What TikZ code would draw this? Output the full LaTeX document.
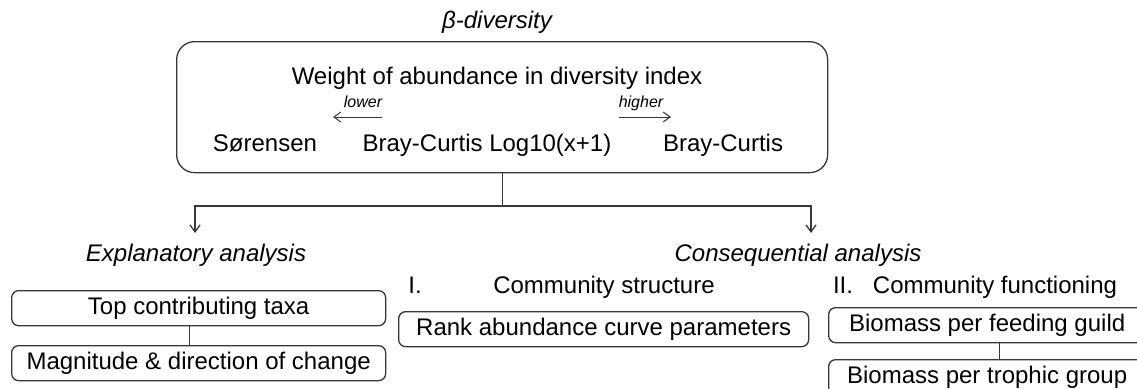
\documentclass[tikz,border=0pt]{standalone}
\usepackage{fontspec}
\setmainfont{Liberation Sans}
\usetikzlibrary{positioning,arrows.meta}
\definecolor{cline}{RGB}{55,55,55}

\begin{document}
\begin{tikzpicture}[x=1pt,y=-1pt,
    every node/.style={inner sep=0pt,text height=17pt,text depth=5pt,font=\fontsize{24}{28}\selectfont},
    roundbox/.style={draw=cline,line width=1.3pt,rounded corners=7pt,anchor=north west,minimum height=35pt},
    small/.style={text height=12pt,text depth=3pt,font=\fontsize{16}{18}\selectfont\itshape},
    title/.style={font=\fontsize{24}{28}\selectfont\itshape},
    conn/.style={draw=cline,line width=1.3pt},
    tip/.style={-{Straight Barb[length=7pt,width=10pt]}}]

\clip (0,0) rectangle (1137,388);

% beta-diversity block
\node[title] (beta) at (497,22) {β-diversity};
\node[roundbox,rounded corners=18pt,minimum width=651pt,minimum height=131pt] (wbox) at (176,41) {};
\node (weight) at (497,78) {Weight of abundance in diversity index};
\node[small] (lower) at (363,103) {lower};
\node[small] (higher) at (641,103) {higher};
\node (sor) at (265,145) {Sørensen};
\node (bclog) at (487,145) {Bray-Curtis Log10(x+1)};
\node (bc) at (723,145) {Bray-Curtis};
\coordinate (lowend) at (333,117);
\coordinate (highend) at (671,117);
\draw[conn,line width=1pt,tip] (lower.south east |- lowend) -- (lowend);
\draw[conn,line width=1pt,tip] (higher.south west |- highend) -- (highend);

% split
\coordinate (split) at (wbox.south |- 0,206);
\coordinate (lft) at (195,233);
\coordinate (rgt) at (811,233);
\draw[conn] (wbox.south) -- (split);
\draw[conn,tip] (split) -| (lft);
\draw[conn,tip] (split) -| (rgt);

% explanatory
\node[title] (expl) at (196,255) {Explanatory analysis};
\node[roundbox,minimum width=374pt] (top) at (11,290) {Top contributing taxa};
\node[roundbox,minimum width=374pt] (mag) at (11,345) {Magnitude \& direction of change};
\draw[conn] ([xshift=-9pt]top.south) -- ([xshift=-9pt]mag.north);

% consequential
\node[title] (conseq) at (798,255) {Consequential analysis};
\node (one) at (415,287) {I.};
\node (struct) at (604,287) {Community structure};
\node[roundbox,minimum width=410pt] (rank) at (398,311) {Rank abundance curve parameters};
\node (two) at (843,287) {II.};
\node (func) at (995,287) {Community functioning};
\node[roundbox,minimum width=317pt] (feed) at (828,307) {Biomass per feeding guild};
\node[roundbox,minimum width=317pt] (troph) at (828,359) {Biomass per trophic group};
\draw[conn] ([xshift=12pt]feed.south) -- ([xshift=12pt]troph.north);

\end{tikzpicture}
\end{document}
